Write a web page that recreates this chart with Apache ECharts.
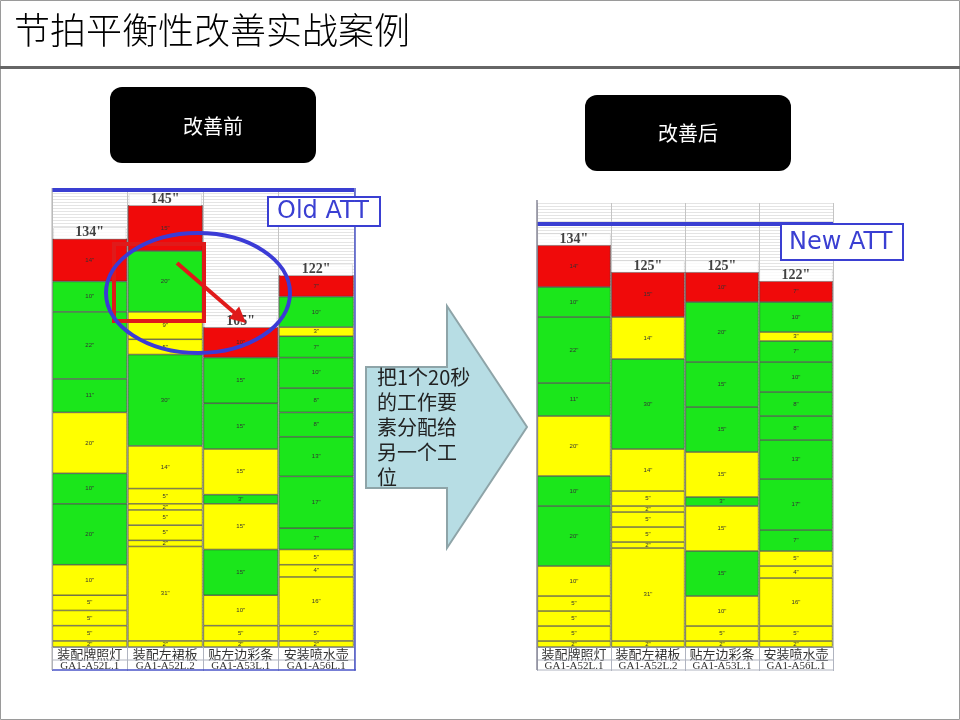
<!DOCTYPE html>
<html>
<head>
<meta charset="utf-8">
<script src="https://cdn.jsdelivr.net/npm/echarts@6/dist/echarts.min.js"></script>
<style>html,body{margin:0;padding:0;background:#fff}#c{width:960px;height:720px}</style>
</head>
<body>
<div id="c"></div>
<script>
// Stations (categories) and part numbers
const categories = ['装配牌照灯', '装配左裙板', '贴左边彩条', '安装喷水壶'];
const partNumbers = ['GA1-A52L.1', 'GA1-A52L.2', 'GA1-A53L.1', 'GA1-A56L.1'];

// Work element times (seconds), listed bottom -> top, per station
const beforeTimes = [
  [2, 5, 5, 5, 10, 20, 10, 20, 11, 22, 10, 14],
  [2, 31, 2, 5, 5, 2, 5, 14, 30, 5, 9, 20, 15],
  [2, 5, 10, 15, 15, 3, 15, 15, 15, 10],
  [2, 5, 16, 4, 5, 7, 17, 13, 8, 8, 10, 7, 3, 10, 7]
];
// Element kind: R = red, G = green, Y = yellow (bottom -> top)
const beforeKinds = [
  'YYYYYGGYGGGR',
  'YYYYYYYYGYYGR',
  'YYYGYGYGGR',
  'YYYYYGGGGGGGYGR'
];
const afterTimes = [
  [2, 5, 5, 5, 10, 20, 10, 20, 11, 22, 10, 14],
  [2, 31, 2, 5, 5, 2, 5, 14, 30, 14, 15],
  [2, 5, 10, 15, 15, 3, 15, 15, 15, 20, 10],
  [2, 5, 16, 4, 5, 7, 17, 13, 8, 8, 10, 7, 3, 10, 7]
];
const afterKinds = [
  'YYYYYGGYGGGR',
  'YYYYYYYYGYR',
  'YYYGYGYGGGR',
  'YYYYYGGGGGGGYGR'
];
const oldATT = 150;
const newATT = 141;

const colorMap = { R: '#f00a0a', G: '#1be61b', Y: '#ffff00' };
const blue = '#3a3fd2';

function buildSeries(times, kinds, idx, att) {
  const n = Math.max(...times.map(t => t.length));
  const out = [];
  for (let k = 0; k < n; k++) {
    const s = {
      type: 'bar', xAxisIndex: idx, yAxisIndex: idx, stack: 'st' + idx,
      barCategoryGap: '1%', silent: true,
      itemStyle: { borderColor: '#3d3d3d', borderWidth: 0.6 },
      label: { show: true, position: 'inside', fontSize: 6, color: '#333',
        formatter: p => p.value + '"' },
      data: times.map((t, i) => k < t.length
        ? { value: t[k], itemStyle: { color: colorMap[kinds[i][k]] } }
        : '-')
    };
    if (k === 0) {
      s.markLine = {
        silent: true, symbol: ['none', 'none'], label: { show: false },
        lineStyle: { color: blue, width: 4, type: 'solid' },
        data: [{ yAxis: att }]
      };
    }
    out.push(s);
  }
  out.push({
    type: 'scatter', xAxisIndex: idx, yAxisIndex: idx, symbolSize: 0, silent: true, z: 5,
    data: times.map((t, i) => [i, t.reduce((a, b) => a + b, 0)]),
    label: {
      show: true, position: 'top', distance: 0,
      formatter: p => p.value[1] + '"',
      width: 72, height: 11, lineHeight: 12, align: 'center',
      backgroundColor: '#fff', borderColor: '#c8c8c8', borderWidth: 0.5,
      fontFamily: 'Liberation Serif', fontWeight: 'bold', fontSize: 14, color: '#111'
    }
  });
  return out;
}

function xAxisFor(idx) {
  return {
    type: 'category', gridIndex: idx, data: categories,
    axisLine: { show: true, lineStyle: { color: '#9aa0b0', width: 1 } },
    axisTick: { show: true, length: 24, lineStyle: { color: '#b0b4c0' } },
    splitLine: { show: true, lineStyle: { color: '#c4c4c4', width: 1 } },
    axisLabel: {
      margin: 1, interval: 0,
      formatter: (v, i) => '{a|' + v + '}\n{b|' + partNumbers[i] + '}',
      rich: {
        a: { fontFamily: 'Noto Sans CJK SC', fontSize: 13, color: '#333', lineHeight: 13 },
        b: { fontFamily: 'Liberation Serif', fontSize: 11, color: '#333', lineHeight: 10 }
      }
    }
  };
}
function yAxisFor(idx, max) {
  return {
    type: 'value', gridIndex: idx, min: 0, max: max, interval: 1,
    axisLabel: { show: false }, axisLine: { show: false }, axisTick: { show: false },
    splitLine: { show: true, lineStyle: { color: '#e4e4e4', width: 1 } }
  };
}

const chart = echarts.init(document.getElementById('c'), null, { renderer: 'canvas' });
const Z = 100;
const option = {
  animation: false,
  backgroundColor: '#fff',
  grid: [
    { left: 52, top: 190, width: 302, height: 457 },
    { left: 537, top: 203, width: 296, height: 444 }
  ],
  xAxis: [xAxisFor(0), xAxisFor(1)],
  yAxis: [yAxisFor(0, 150), yAxisFor(1, 148)],
  series: [...buildSeries(beforeTimes, beforeKinds, 0, oldATT), ...buildSeries(afterTimes, afterKinds, 1, newATT)],
  graphic: [
    { type: 'rect', z: Z, shape: { x: 0.5, y: 0.5, width: 959, height: 719 }, style: { fill: 'none', stroke: '#9a9a9a', lineWidth: 1 } },
    { type: 'text', z: Z, style: { x: 14, y: 12, text: '节拍平衡性改善实战案例', fontFamily: 'Noto Sans CJK SC', fontSize: 36, fontWeight: 300, fill: '#000', verticalAlign: 'top' } },
    { type: 'rect', z: Z, shape: { x: 0, y: 66, width: 960, height: 3 }, style: { fill: '#666' } },
    // header boxes
    { type: 'rect', z: Z, shape: { x: 110, y: 87, width: 206, height: 76, r: 12 }, style: { fill: '#000' } },
    { type: 'text', z: Z, style: { x: 213, y: 126, text: '改善前', fontFamily: 'Noto Sans CJK SC', fontSize: 20, fill: '#fff', align: 'center', verticalAlign: 'middle' } },
    { type: 'rect', z: Z, shape: { x: 585, y: 95, width: 206, height: 76, r: 12 }, style: { fill: '#000' } },
    { type: 'text', z: Z, style: { x: 688, y: 133, text: '改善后', fontFamily: 'Noto Sans CJK SC', fontSize: 20, fill: '#fff', align: 'center', verticalAlign: 'middle' } },
    // chart frames / label rows
    { type: 'line', z: Z, shape: { x1: 52, y1: 660, x2: 355, y2: 660 }, style: { stroke: '#b0b4c0', lineWidth: 1 } },
    { type: 'line', z: Z, shape: { x1: 52, y1: 670, x2: 356, y2: 670 }, style: { stroke: '#4a55c8', lineWidth: 1.5 } },
    { type: 'line', z: Z, shape: { x1: 355, y1: 188, x2: 355, y2: 670 }, style: { stroke: '#4a55c8', lineWidth: 1.5 } },
    { type: 'line', z: Z, shape: { x1: 52, y1: 188, x2: 52, y2: 670 }, style: { stroke: '#b0b0b0', lineWidth: 1 } },
    { type: 'line', z: Z, shape: { x1: 537, y1: 660, x2: 833, y2: 660 }, style: { stroke: '#b0b4c0', lineWidth: 1 } },
    { type: 'line', z: Z, shape: { x1: 537, y1: 670, x2: 833, y2: 670 }, style: { stroke: '#b0b4c0', lineWidth: 1 } },
    { type: 'line', z: Z, shape: { x1: 537, y1: 200, x2: 537, y2: 670 }, style: { stroke: '#8a8a9a', lineWidth: 1.5 } },
    // Old ATT box
    { type: 'rect', z: Z, shape: { x: 268, y: 197, width: 112, height: 29 }, style: { fill: '#fff', stroke: blue, lineWidth: 2 } },
    { type: 'text', z: Z, style: { x: 277, y: 212, text: 'Old ATT', fontFamily: 'DejaVu Sans', fontSize: 24, fill: blue, verticalAlign: 'middle' } },
    // New ATT box
    { type: 'rect', z: Z, shape: { x: 781, y: 224, width: 122, height: 36 }, style: { fill: '#fff', stroke: blue, lineWidth: 2 } },
    { type: 'text', z: Z, style: { x: 789, y: 243, text: 'New ATT', fontFamily: 'DejaVu Sans', fontSize: 24, fill: blue, verticalAlign: 'middle' } },
    // annotation: red frame, ellipse, red arrow
    { type: 'rect', z: Z, shape: { x: 114, y: 244, width: 90, height: 77 }, style: { fill: 'none', stroke: '#e01a1a', lineWidth: 4 } },
    { type: 'ellipse', z: Z + 1, shape: { cx: 198, cy: 293, rx: 92, ry: 60 }, style: { fill: 'none', stroke: '#3b3bd6', lineWidth: 4 } },
    { type: 'line', z: Z + 2, shape: { x1: 177, y1: 263, x2: 236, y2: 314 }, style: { stroke: '#e01a1a', lineWidth: 4 } },
    { type: 'polygon', z: Z + 2, shape: { points: [[246, 323], [228.7, 318.6], [239.1, 306.4]] }, style: { fill: '#e01a1a' } },
    // big arrow
    { type: 'polygon', z: Z, shape: { points: [[366, 367], [447, 367], [447, 306], [527, 427], [447, 548], [447, 488], [366, 488]] }, style: { fill: '#b7dde4', stroke: '#8ea4a8', lineWidth: 2 } },
    { type: 'text', z: Z + 1, style: { x: 377, y: 365, text: '把1个20秒\n的工作要\n素分配给\n另一个工\n位', fontFamily: 'Noto Sans CJK SC', fontSize: 20, lineHeight: 25, fill: '#222', verticalAlign: 'top' } }
  ]
};
chart.setOption(option);
</script>
</body>
</html>
